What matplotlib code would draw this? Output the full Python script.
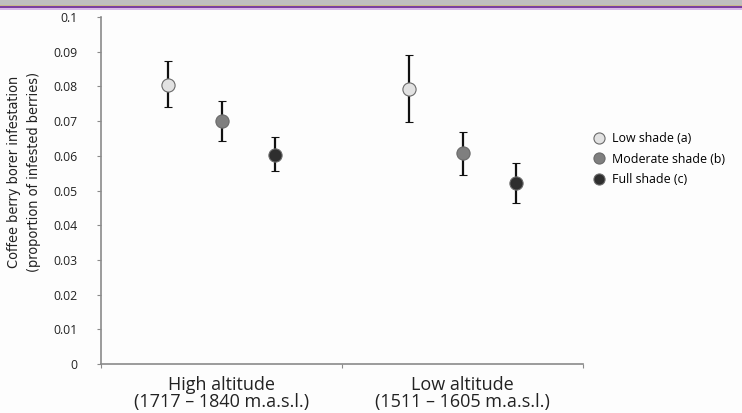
#!/usr/bin/env python3
"""Coffee berry borer infestation by altitude and shade level."""

import matplotlib.pyplot as plt
import numpy as np
from matplotlib.lines import Line2D
from matplotlib.patches import Rectangle

categories = ["High altitude\n(1717 \u2013 1840 m.a.s.l.)", "Low altitude\n(1511 \u2013 1605 m.a.s.l.)"]
shade_labels = ["Low shade (a)", "Moderate shade (b)", "Full shade (c)"]

# means and error bar ends, per shade level: [high altitude, low altitude]
means = {
    "low": [0.0805, 0.0792],
    "moderate": [0.0699, 0.0609],
    "full": [0.0603, 0.0521],
}
upper = {
    "low": [0.0874, 0.0891],
    "moderate": [0.0759, 0.0668],
    "full": [0.0653, 0.0580],
}
lower = {
    "low": [0.0740, 0.0697],
    "moderate": [0.0643, 0.0546],
    "full": [0.0557, 0.0464],
}
yticks = [0, 0.01, 0.02, 0.03, 0.04, 0.05, 0.06, 0.07, 0.08, 0.09, 0.1]
ytick_labels = ["0", "0.01", "0.02", "0.03", "0.04", "0.05", "0.06", "0.07", "0.08", "0.09", "0.1"]

colors = {"low": "#e2e2e2", "moderate": "#7f7f7f", "full": "#2e2e2e"}
offsets = {"low": -0.22, "moderate": 0.0, "full": 0.22}

W, H = 742, 413
fig = plt.figure(figsize=(W / 100, H / 100), dpi=100, facecolor="#fdfdfd")
ax = fig.add_axes([101 / W, 1 - 364 / H, 482 / W, 347 / H])
ax.set_facecolor("#fdfdfd")

# top window band
fig.add_artist(Rectangle((0, 1 - 5 / H), 1, 5 / H, transform=fig.transFigure,
                         color="#bfbfbf", lw=0))
fig.add_artist(Rectangle((0, 1 - 6.5 / H), 1, 1.5 / H, transform=fig.transFigure,
                         color="#c8b98a", lw=0))
fig.add_artist(Rectangle((0, 1 - 8.5 / H), 1, 2 / H, transform=fig.transFigure,
                         color="#7b3fa0", lw=0))
fig.add_artist(Rectangle((0, 1 - 10 / H), 1, 1.5 / H, transform=fig.transFigure,
                         color="#d8b8e8", lw=0))

x = np.arange(len(categories))
for key in ["low", "moderate", "full"]:
    m = np.array(means[key])
    yerr = np.vstack([m - np.array(lower[key]), np.array(upper[key]) - m])
    ax.errorbar(x + offsets[key], m, yerr=yerr, fmt="o", ms=9.5,
                mfc=colors[key], mec="#6a6a6a", mew=0.8,
                ecolor="#111111", elinewidth=1.6, capsize=2.8, capthick=1.6, zorder=3)

ax.set_xlim(-0.5, 1.5)
ax.set_ylim(0, 0.1)
ax.set_yticks(yticks)
ax.set_yticklabels(ytick_labels, fontsize=8.8, family="Open Sans")
ax.set_xticks([-0.5, 0.5, 1.5])
ax.set_xticklabels([])
ax.set_xticks(x, minor=True)
ax.set_xticklabels(categories, minor=True, fontsize=13, family="Open Sans",
                   linespacing=0.92)
ax.tick_params(axis="x", which="minor", length=0, pad=9, labelcolor="#222222")
ax.tick_params(axis="x", which="major", length=3, color="#8a8a8a", direction="out")
ax.tick_params(axis="y", length=3, color="#8a8a8a", pad=14, labelcolor="#222222")

for side in ["top", "right"]:
    ax.spines[side].set_visible(False)
for side in ["left", "bottom"]:
    ax.spines[side].set_color("#8a8a8a")
    ax.spines[side].set_linewidth(1.2)

fig.text(24 / W, 1 - 172 / H,
         "Coffee berry borer infestation\n(proportion of infested berries)",
         rotation=90, ha="center", va="center", fontsize=10.4, fontstretch="condensed",
         family="DejaVu Sans", color="#222222", linespacing=1.55)

handles = [Line2D([], [], ls="none", marker="o", ms=8, mfc=colors[k],
                  mec="#6a6a6a", mew=0.8) for k in ["low", "moderate", "full"]]
fig.legend(handles, shade_labels, loc="upper left",
           bbox_to_anchor=(587 / W, 1 - 127 / H), frameon=False,
           prop={"family": "Open Sans", "size": 8.9}, handletextpad=0.45,
           labelspacing=0.62, handlelength=1.2, borderaxespad=0)

fig.savefig("out.png", dpi=100, facecolor=fig.get_facecolor())
